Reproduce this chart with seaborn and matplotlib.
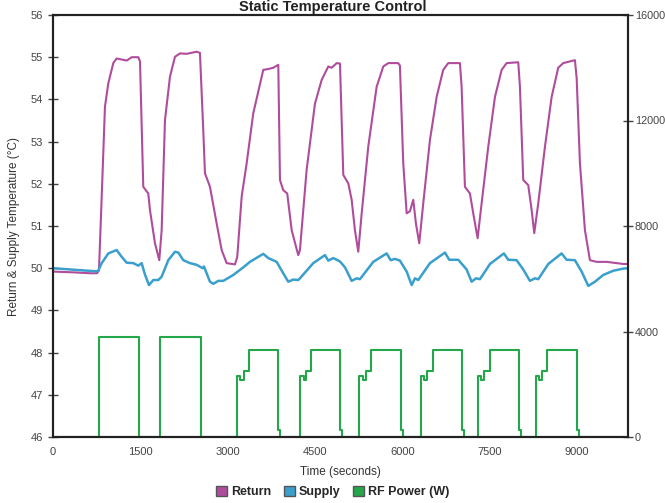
import numpy as np
import seaborn as sns
import matplotlib.pyplot as plt
from matplotlib.patches import Patch

# time (s) and return temperature (deg C)
return_t = [0, 378, 636, 756, 790, 837, 893, 950, 1036, 1094, 1266, 1352, 1465, 1495,
            1551, 1637, 1666, 1752, 1826, 1867, 1924, 2010, 2096, 2182, 2297, 2469, 2525,
            2582, 2611, 2697, 2812, 2898, 2984, 3127, 3166, 3242, 3328, 3441, 3613, 3699,
            3785, 3871, 3900, 3956, 4025, 4101, 4214, 4243, 4358, 4501, 4616, 4730, 4788,
            4874, 4931, 4988, 5074, 5132, 5188, 5245, 5304, 5417, 5561, 5675, 5761, 5932,
            5961, 6018, 6077, 6133, 6190, 6236, 6293, 6362, 6477, 6592, 6705, 6791, 6992,
            7021, 7078, 7164, 7221, 7296, 7365, 7479, 7594, 7709, 7794, 7994, 8023, 8080,
            8166, 8224, 8269, 8338, 8453, 8568, 8681, 8767, 8882, 8968, 8998, 9054, 9140,
            9226, 9341, 9513, 9685, 9798, 9880]
return_temp = [49.92, 49.90, 49.88, 49.88, 49.95, 51.7, 53.83, 54.38, 54.86, 54.97, 54.92,
               55.0, 55.0, 54.9, 51.93, 51.77, 51.38, 50.59, 50.19, 50.9, 53.51, 54.54,
               55.01, 55.09, 55.08, 55.13, 55.1, 53.27, 52.25, 51.93, 51.06, 50.43, 50.12,
               50.09, 50.27, 51.7, 52.49, 53.67, 54.7, 54.72, 54.75, 54.82, 52.09, 51.85,
               51.77, 50.9, 50.31, 50.43, 52.33, 53.9, 54.46, 54.78, 54.75, 54.86, 54.85,
               52.21, 52.01, 51.62, 50.9, 50.39, 51.3, 52.88, 54.3, 54.78, 54.86, 54.86,
               54.8, 52.49, 51.3, 51.35, 51.62, 51.06, 50.59, 51.54, 53.04, 54.06, 54.7,
               54.86, 54.86, 54.3, 51.93, 51.77, 51.3, 50.71, 51.54, 52.88, 54.06, 54.7,
               54.86, 54.88, 54.3, 52.09, 51.97, 51.38, 50.83, 51.54, 52.88, 54.06, 54.75,
               54.86, 54.9, 54.93, 54.5, 52.49, 50.9, 50.19, 50.15, 50.15, 50.12, 50.1, 50.1]

# time (s) and supply temperature (deg C)
supply_t = [0, 300, 700, 773, 837, 950, 1094, 1180, 1266, 1380, 1465, 1523, 1580, 1649,
            1724, 1810, 1867, 1981, 2096, 2153, 2239, 2354, 2469, 2572, 2594, 2697, 2754,
            2840, 2926, 3098, 3270, 3384, 3613, 3699, 3843, 3956, 4042, 4128, 4214, 4243,
            4472, 4673, 4730, 4816, 4931, 5017, 5132, 5218, 5274, 5503, 5733, 5802, 5876,
            5961, 6077, 6163, 6219, 6276, 6477, 6735, 6808, 6963, 7107, 7193, 7267, 7336,
            7508, 7748, 7822, 7966, 8080, 8195, 8281, 8338, 8510, 8739, 8825, 8968, 9083,
            9198, 9312, 9455, 9627, 9798, 9880]
supply_temp = [50.0, 49.97, 49.93, 49.93, 50.12, 50.35, 50.43, 50.27, 50.13, 50.12, 50.06,
               50.12, 49.85, 49.6, 49.72, 49.72, 49.8, 50.19, 50.39, 50.37, 50.19, 50.12,
               50.08, 50.0, 50.04, 49.68, 49.63, 49.7, 49.7, 49.84, 50.02, 50.15, 50.34,
               50.24, 50.15, 49.88, 49.68, 49.73, 49.72, 49.76, 50.12, 50.31, 50.18, 50.24,
               50.16, 50.02, 49.7, 49.76, 49.74, 50.15, 50.35, 50.19, 50.22, 50.18, 49.92,
               49.6, 49.76, 49.72, 50.12, 50.37, 50.2, 50.2, 49.97, 49.68, 49.76, 49.74,
               50.1, 50.35, 50.2, 50.19, 49.97, 49.7, 49.76, 49.74, 50.1, 50.35, 50.2,
               50.19, 49.92, 49.58, 49.68, 49.84, 49.94, 49.99, 50.0]

# time (s) and RF power (W), stepwise
power_t = [0, 790, 1480, 1842, 2540,
           3160, 3220, 3280, 3360, 3865, 3900,
           4245, 4305, 4350, 4440, 4935, 4968,
           5264, 5323, 5370, 5468, 5975, 6008,
           6317, 6369, 6422, 6521, 7027, 7060,
           7304, 7357, 7409, 7508, 8014, 8047,
           8297, 8357, 8403, 8495, 9001, 9034, 9880]
power_w = [0, 3810, 0, 3810, 0,
           2310, 2180, 2510, 3300, 260, 0,
           2310, 2180, 2510, 3300, 260, 0,
           2310, 2180, 2510, 3300, 260, 0,
           2310, 2180, 2510, 3300, 260, 0,
           2310, 2180, 2510, 3300, 260, 0,
           2310, 2180, 2510, 3300, 260, 0, 0]

c_return = '#b04c9c'
c_supply = '#3a9fcc'
c_power = '#24a64a'

sns.set_style('white')
plt.rcParams['font.family'] = ['Liberation Sans', 'DejaVu Sans']

fig = plt.figure(figsize=(6.65, 5.03), dpi=100)
ax = fig.add_axes([53 / 665, 66 / 503, 575 / 665, 422 / 503])
ax2 = ax.twinx()

sns.lineplot(x=power_t, y=power_w, ax=ax2, color=c_power, lw=1.5, drawstyle='steps-post')
sns.lineplot(x=return_t, y=return_temp, ax=ax, color=c_return, lw=1.5)
sns.lineplot(x=supply_t, y=supply_temp, ax=ax, color=c_supply, lw=1.8)

ax.set_xlim(0, 9880)
ax.set_ylim(46, 56)
ax2.set_ylim(0, 16000)
ax.set_xticks(np.arange(0, 9880, 500), minor=True)
ax.set_xticks(np.arange(0, 9001, 1500))
ax.set_yticks(np.arange(46, 57, 1))
ax2.set_yticks(np.arange(0, 16001, 4000))

for a in (ax, ax2):
    for s in a.spines.values():
        s.set_color('#222222')
        s.set_linewidth(1.5)
    a.tick_params(direction='inout', length=7, width=1, color='#444444',
                  labelsize=8, labelcolor='#444444')
ax.tick_params(axis='x', which='minor', direction='inout', length=7, width=1, color='#444444')
ax.tick_params(axis='x', pad=4)
ax2.tick_params(axis='y', pad=1.5, labelsize=7.8)

ax.set_xlabel('Time (seconds)', fontsize=8.5, color='#333333', labelpad=6)
ax.set_ylabel('Return & Supply Temperature (\u00b0C)', fontsize=8.5, color='#333333', labelpad=8)

fig.text(0.5, 1 - 11 / 503, 'Static Temperature Control', ha='center', va='baseline',
         fontsize=10.5, fontweight='bold', color='#222222')

handles = [Patch(facecolor=c_return, edgecolor='#555555'),
           Patch(facecolor=c_supply, edgecolor='#555555'),
           Patch(facecolor=c_power, edgecolor='#555555')]
fig.legend(handles, ['Return', 'Supply', 'RF Power (W)'], loc='center',
           bbox_to_anchor=(0.5, 1 - 492 / 503), ncol=3, frameon=False,
           handlelength=0.9, handleheight=0.9, handletextpad=0.3, columnspacing=1.0,
           prop={'weight': 'bold', 'size': 9})

fig.savefig('out.png', dpi=100)
